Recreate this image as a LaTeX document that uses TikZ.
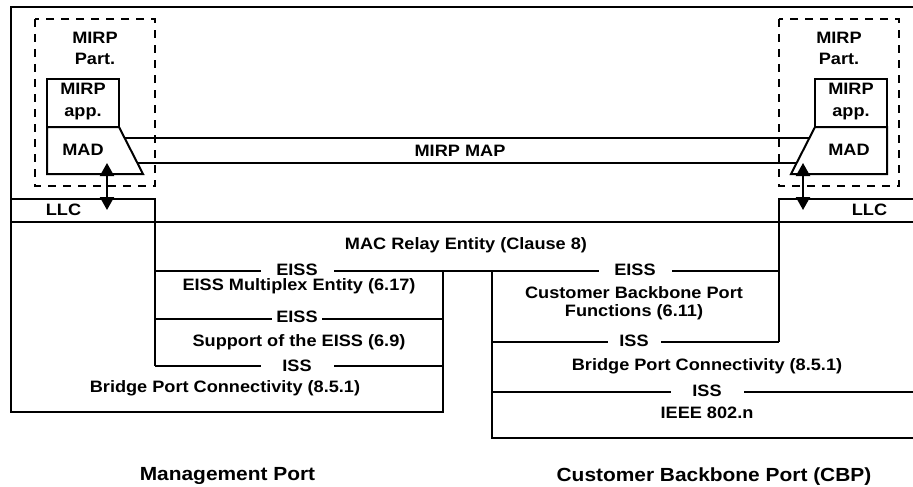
\documentclass[tikz,border=0pt]{standalone}
\usepackage{fontspec}
\setmainfont{Liberation Sans}[FakeStretch=1.1]
\usetikzlibrary{arrows.meta}

\begin{document}
\begin{tikzpicture}[x=1pt,y=-1pt]

    \tikzset{
      lbl/.style={
        font=\bfseries\fontsize{16.5}{21.7}\selectfont,
        inner sep=0pt,
        align=center,
      },
      iface/.style={
        lbl,
        fill=white,
        inner ysep=1pt,
        minimum width=73pt,
      },
      portlbl/.style={
        lbl,
        font=\bfseries\fontsize{19}{22}\selectfont,
      },
      frame/.style={
        line width=2pt,
      },
      partbox/.style={
        line width=1.7pt,
        dash pattern=on 8pt off 7pt,
      },
      updown/.style={
        line width=2pt,
        {Triangle[width=14pt,length=13pt]}-{Triangle[width=14pt,length=13pt]},
      },
    }
    \useasboundingbox (0,0) rectangle (913,487);

    % outer frame and layers
	\draw[frame] (913,7)--(11,7)--(11,412)--(443,412)--(443,271);
	\draw[frame] (11,199)--(155,199)--(155,366);
	\draw[frame] (913,199)--(779,199)--(779,342);
	\draw[frame] (11,222)--(913,222);
	\draw[frame] (155,271)--(779,271);
	\draw[frame] (155,319)--(443,319);
	\draw[frame] (155,366)--(443,366);
	\draw[frame] (492,271)--(492,438)--(913,438);
	\draw[frame] (492,342)--(779,342);
	\draw[frame] (492,392)--(913,392);

    % MIRP participants
	\draw[partbox] (35,19) rectangle (155,186);
	\draw[partbox] (779,19) rectangle (899,186);
	\draw[frame] (47,79) rectangle (119,127);
	\draw[frame] (815,79) rectangle (887,127);
	\draw[frame] (47,127)--(119,127)--(143,174)--(47,174)--cycle;
	\draw[frame] (815,127)--(887,127)--(887,174)--(791,174)--cycle;
	\path (119,127)--(143,174) coordinate[pos=0.234] (mapLa) coordinate[pos=0.766] (mapLb);
	\path (815,127)--(791,174) coordinate[pos=0.234] (mapRa) coordinate[pos=0.766] (mapRb);
	\draw[frame] (mapLa)--(mapRa);
	\draw[frame] (mapLb)--(mapRb);

	\coordinate (madLo) at (107,163);
	\coordinate (llcLo) at (107,210);
	\coordinate (madRo) at (803,163);
	\coordinate (llcRo) at (803,210);
	\draw[updown] (madLo)--(llcLo);
	\draw[updown] (madRo)--(llcRo);

	\node[lbl] (partL) at (95,48.3) {MIRP\\Part.};
	\node[lbl] (partR) at (839,48.3) {MIRP\\Part.};
	\node[lbl,font=\bfseries\fontsize{16.5}{22}\selectfont] (appL) at (83,101.5) {MIRP\\app.};
	\node[lbl,font=\bfseries\fontsize{16.5}{22}\selectfont] (appR) at (851,101.5) {MIRP\\app.};
	\node[lbl,anchor=base] (madL) at (83,155) {MAD};
	\node[lbl,anchor=base] (madR) at (849,155) {MAD};
	\node[lbl,anchor=base] (llcL) at (63.5,215) {LLC};
	\node[lbl,anchor=base] (llcR) at (869.5,215) {LLC};
	\node[lbl,anchor=base] (map) at (460,156.7) {MIRP MAP};
	\node[lbl,anchor=base] (relay) at (466,249.3) {MAC Relay Entity (Clause 8)};

    % management port stack
	\node[iface,anchor=base] (eissA) at (297,275) {EISS};
	\node[lbl,anchor=base] (mux) at (299,290) {EISS Multiplex Entity (6.17)};
	\node[iface,anchor=base,minimum width=50pt] (eissB) at (297,322) {EISS};
	\node[lbl,anchor=base] (supp) at (299,346.7) {Support of the EISS (6.9)};
	\node[iface,anchor=base] (issA) at (297,371.7) {ISS};
	\node[lbl,anchor=base] (bpcL) at (225,392) {Bridge Port Connectivity (8.5.1)};

    % CBP stack
	\node[iface,anchor=base] (eissC) at (635,275) {EISS};
	\node[lbl,font=\bfseries\fontsize{16.5}{18.4}\selectfont] (cbpf) at (634,303.5) {Customer Backbone Port\\Functions (6.11)};
	\node[iface,anchor=base,minimum width=53pt] (issB) at (634,346.7) {ISS};
	\node[lbl,anchor=base] (bpcR) at (707,370) {Bridge Port Connectivity (8.5.1)};
	\node[iface,anchor=base] (issC) at (707,396.7) {ISS};
	\node[lbl,anchor=base] (phy) at (707,418) {IEEE 802.n};

	\node[portlbl,anchor=base] (mgmt) at (227.5,480) {Management Port};
	\node[portlbl,anchor=base] (cbp) at (714,481) {Customer Backbone Port (CBP)};

\end{tikzpicture}
\end{document}
